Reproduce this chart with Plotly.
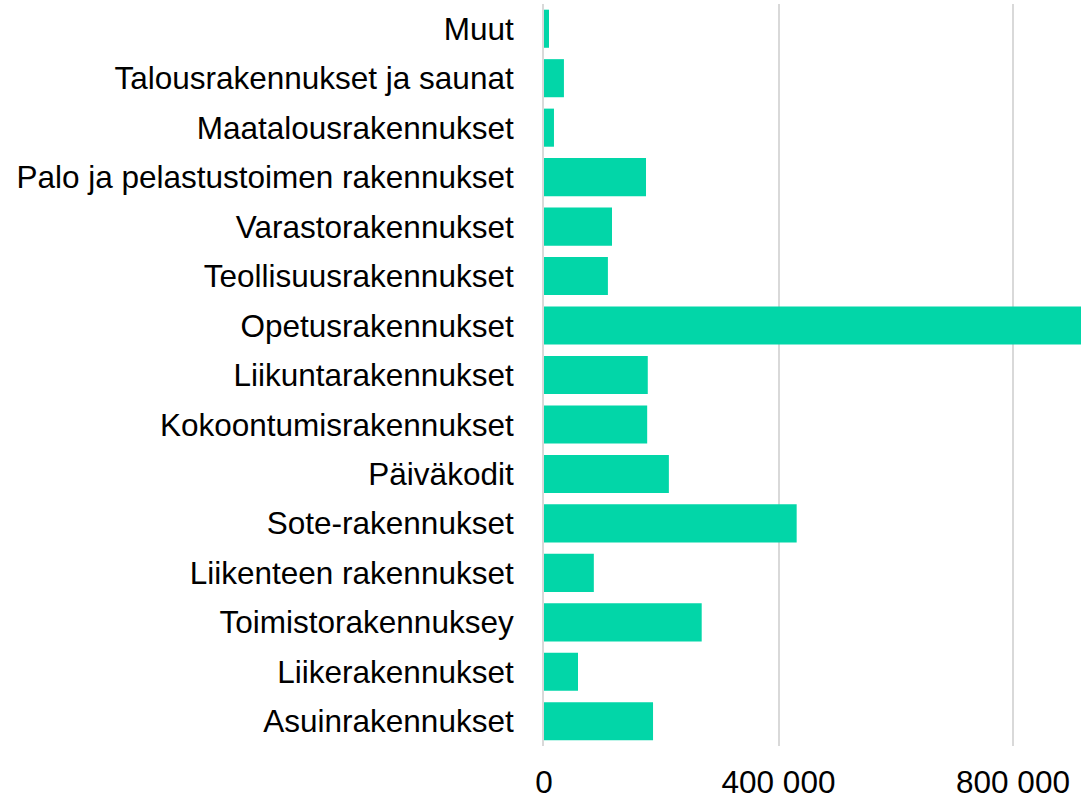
import plotly.graph_objects as go

categories = [
    "Asuinrakennukset", "Liikerakennukset", "Toimistorakennuksey",
    "Liikenteen rakennukset", "Sote-rakennukset", "Päiväkodit",
    "Kokoontumisrakennukset", "Liikuntarakennukset", "Opetusrakennukset",
    "Teollisuusrakennukset", "Varastorakennukset",
    "Palo ja pelastustoimen rakennukset", "Maatalousrakennukset",
    "Talousrakennukset ja saunat", "Muut",
]
values = [186000, 58000, 269000, 85000, 431000, 213000,
          176000, 177000, 960000, 109000, 116000,
          174000, 17000, 34000, 8500]
tick_vals = [0, 400000, 800000]
tick_text = ["0", "400 000", "800 000"]

fig = go.Figure(go.Bar(
    x=values, y=categories, orientation="h",
    marker=dict(color="#02D6A8", line=dict(width=0)),
))
fig.update_layout(
    width=1081, height=797,
    margin=dict(l=544, r=0, t=4, b=51),
    plot_bgcolor="white", paper_bgcolor="white",
    bargap=0.23,
    font=dict(family="Liberation Sans, Arial, sans-serif", size=31.5, color="#000000"),
    showlegend=False,
)
fig.update_xaxes(
    range=[0, 916000], tickvals=tick_vals, ticktext=tick_text,
    showgrid=True, gridcolor="#D9D9D9", gridwidth=1.5,
    zeroline=False, showline=False, ticks="", ticklabelstandoff=14,
    automargin=False,
)
fig.update_yaxes(
    categoryorder="array", categoryarray=categories,
    showgrid=False, showline=True, linecolor="#D9D9D9", linewidth=2,
    ticks="", ticklabelstandoff=22, automargin=False,
)
fig.write_html(
    "out.html",
    config={"displayModeBar": False},
    post_script="document.body.style.margin='0';document.body.style.overflow='hidden';",
)
